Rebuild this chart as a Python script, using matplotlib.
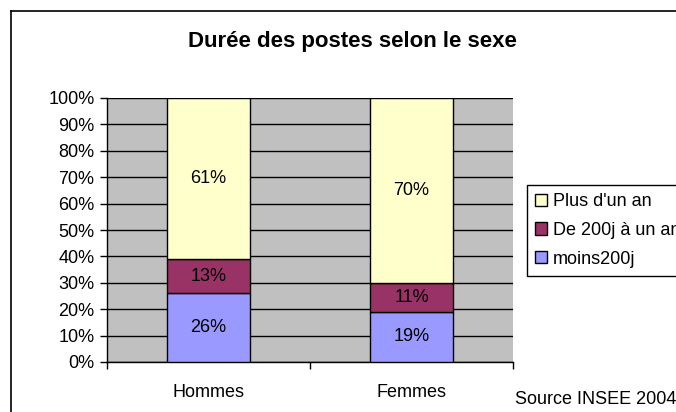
import matplotlib
matplotlib.use('Agg')
import matplotlib.pyplot as plt
from matplotlib.lines import Line2D
from matplotlib.patches import Patch
import numpy as np

plt.rcParams['font.family'] = ['Liberation Sans', 'DejaVu Sans']

categories = ['Hommes', 'Femmes']
series_names = ['moins200j', 'De 200j à un an', "Plus d'un an"]
moins200j = [26, 19]
de200j_un_an = [13, 11]
plus_un_an = [61, 70]
colors = ['#9999FF', '#993366', '#FFFFCC']
yticks = [0, 10, 20, 30, 40, 50, 60, 70, 80, 90, 100]

fs = 13

fig = plt.figure(figsize=(6.76, 4.12), dpi=100)
ax = fig.add_axes([107/676, 1 - 362/412, (513-107)/676, (362-98)/412])
ax.set_facecolor('#C0C0C0')

x = np.arange(1, len(categories) + 1)
bottom = np.zeros(len(categories))
for vals, name, col in zip([moins200j, de200j_un_an, plus_un_an], series_names, colors):
    vals = np.array(vals, dtype=float)
    ax.bar(x, vals, 0.405, bottom=bottom, color=col, edgecolor='black', linewidth=1, zorder=3, label=name)
    for xi, b, v in zip(x, bottom, vals):
        ax.text(xi, b + v / 2, '%d%%' % v, ha='center', va='center', fontsize=fs, zorder=4)
    bottom += vals

ax.set_xlim(0.5, 2.5)
ax.set_ylim(0, 100)
ax.set_yticks(yticks)
ax.set_yticklabels(['%d%%' % t for t in yticks], fontsize=fs)
ax.yaxis.grid(True, color='black', linewidth=1, zorder=1)
ax.set_axisbelow(True)
ax.tick_params(axis='y', direction='out', length=5, width=1, pad=4)

ax.set_xticks([0.5, 1.5, 2.5])
ax.set_xticklabels([])
ax.set_xticks(x, minor=True)
ax.set_xticklabels(categories, minor=True, fontsize=fs)
ax.tick_params(axis='x', which='major', direction='out', length=5, width=1)
ax.tick_params(axis='x', which='minor', length=0, pad=16)

for side in ['top', 'right']:
    ax.spines[side].set_visible(False)
ax.spines['left'].set_linewidth(1)
ax.spines['bottom'].set_linewidth(1)

fig.text(352/676, 1 - 42/412, 'Durée des postes selon le sexe', ha='center', va='center',
         fontsize=16, fontweight='bold')
fig.text(515/676, 1 - 399/412, 'Source INSEE 2004', ha='left', va='center', fontsize=fs)

handles = [Patch(facecolor=c, edgecolor='black', linewidth=1) for c in colors]
leg = fig.legend(handles[::-1], series_names[::-1], loc='upper left',
                 bbox_to_anchor=(527/676, 1 - 185/412), fontsize=fs,
                 frameon=True, fancybox=False, edgecolor='black', framealpha=1,
                 handlelength=0.65, handleheight=0.65, handletextpad=0.35,
                 labelspacing=0.65, borderpad=0.45, borderaxespad=0)
leg.get_frame().set_linewidth(1)

# chart outer frame (top and left visible)
fig.add_artist(Line2D([11/676, 11/676], [0, 1 - 11/412], color='black', linewidth=1.2,
                      transform=fig.transFigure))
fig.add_artist(Line2D([11/676, 1], [1 - 11/412, 1 - 11/412], color='black', linewidth=1.2,
                      transform=fig.transFigure))

fig.savefig('out.png', dpi=100)
